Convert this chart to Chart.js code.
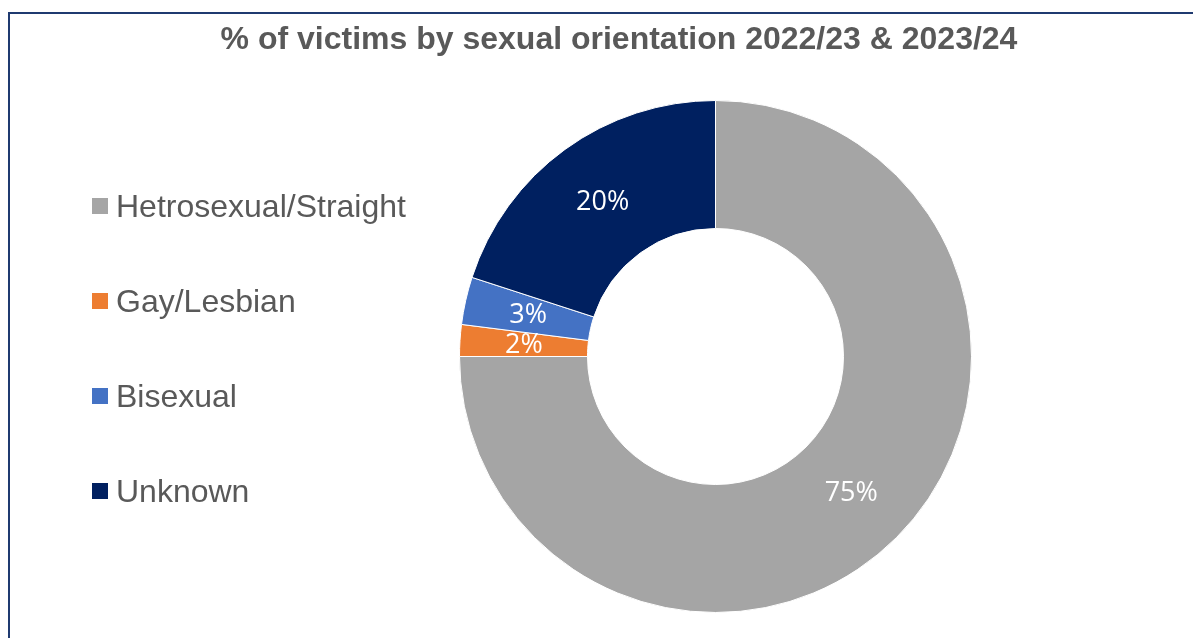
<!DOCTYPE html>
<html>
<head>
<meta charset="utf-8">
<script src="https://cdn.jsdelivr.net/npm/chart.js@4/dist/chart.umd.min.js"></script>
<style>
  html, body { margin: 0; padding: 0; background: #fff; }
  #wrap { position: relative; width: 1193px; height: 638px; overflow: hidden; }
  #frame { position: absolute; left: 8px; top: 12px; width: 1300px; height: 700px;
           border-top: 2px solid #1f3a70; border-left: 2px solid #1f3a70; box-sizing: border-box; }
  canvas { position: absolute; left: 0; top: 0; }
</style>
</head>
<body>
<div id="wrap">
  <div id="frame"></div>
  <canvas id="c" width="1193" height="638"></canvas>
</div>
<script>
// Victims by sexual orientation, share in percent
const titleText = '% of victims by sexual orientation 2022/23 & 2023/24';
const categories = ['Hetrosexual/Straight', 'Gay/Lesbian', 'Bisexual', 'Unknown'];
const shares = [75, 2, 3, 20];
const colours = ['#A5A5A5', '#ED7D31', '#4472C4', '#002060'];

// Title, legend column and percentage labels drawn on the chart canvas
const decorations = {
  id: 'decorations',
  afterDatasetsDraw(chart) {
    const ctx = chart.ctx;
    ctx.save();
    // title
    ctx.fillStyle = '#595959';
    ctx.font = 'bold 32px "Liberation Sans", Arial, sans-serif';
    ctx.textAlign = 'center';
    ctx.textBaseline = 'alphabetic';
    ctx.fillText(titleText, 619, 49);

    // legend
    ctx.textAlign = 'left';
    ctx.font = '32px "Liberation Sans", Arial, sans-serif';
    const bg = chart.data.datasets[0].backgroundColor;
    chart.data.labels.forEach((lab, i) => {
      const base = 217 + i * 95;
      ctx.fillStyle = bg[i];
      ctx.fillRect(92, base - 19, 16, 16);
      ctx.fillStyle = '#595959';
      ctx.fillText(lab, 116, base);
    });

    // value labels at the middle of each ring segment
    const meta = chart.getDatasetMeta(0);
    ctx.fillStyle = '#ffffff';
    ctx.font = '27px "Open Sans", "Noto Sans", sans-serif';
    ctx.textAlign = 'center';
    ctx.textBaseline = 'middle';
    meta.data.forEach((arc, i) => {
      const p = arc.tooltipPosition();
      ctx.fillText(chart.data.datasets[0].data[i] + '%', p.x, p.y + 1);
    });
    ctx.restore();
  }
};

new Chart(document.getElementById('c'), {
  type: 'doughnut',
  data: {
    labels: categories,
    datasets: [{
      data: shares,
      backgroundColor: colours,
      borderColor: '#ffffff',
      borderWidth: 1,
      hoverOffset: 0
    }]
  },
  options: {
    responsive: false,
    animation: false,
    cutout: '50%',
    layout: { padding: { left: 459, right: 221, top: 100, bottom: 25 } },
    plugins: {
      legend: { display: false },
      title: { display: false },
      tooltip: { enabled: false }
    },
    events: []
  },
  plugins: [decorations]
});
</script>
</body>
</html>
